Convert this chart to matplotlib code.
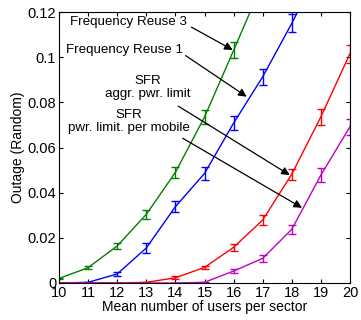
import matplotlib
matplotlib.use("Agg")
import matplotlib.pyplot as plt

plt.rcParams["font.family"] = ["Liberation Sans", "DejaVu Sans"]

users = [10, 11, 12, 13, 14, 15, 16, 17, 18, 19, 20]

reuse3 = [0.002, 0.0068, 0.0164, 0.0304, 0.049, 0.0735, 0.103, 0.133, 0.17, 0.21, 0.25]
reuse3_err = [0.0004, 0.0008, 0.0015, 0.002, 0.0025, 0.003, 0.0035, 0.004, 0.004, 0.004, 0.004]

reuse1 = [0.0, 0.0003, 0.004, 0.0155, 0.0338, 0.0485, 0.0708, 0.0913, 0.115, 0.14, 0.17]
reuse1_err = [0.0, 0.0002, 0.0008, 0.002, 0.0025, 0.003, 0.003, 0.0035, 0.004, 0.004, 0.004]

sfr_aggr = [0.0, 0.0, 0.0, 0.0003, 0.0023, 0.0069, 0.0158, 0.0279, 0.0482, 0.0736, 0.1016]
sfr_aggr_err = [0.0, 0.0, 0.0, 0.0002, 0.0006, 0.0008, 0.0015, 0.002, 0.0025, 0.0035, 0.004]

sfr_mobile = [0.0, 0.0, 0.0, 0.0, 0.0, 0.0003, 0.0053, 0.0109, 0.0238, 0.0478, 0.0692]
sfr_mobile_err = [0.0, 0.0, 0.0, 0.0, 0.0, 0.0002, 0.0008, 0.0015, 0.002, 0.003, 0.0035]

series = [
    (reuse3, reuse3_err, "#008000"),
    (reuse1, reuse1_err, "#0000ff"),
    (sfr_aggr, sfr_aggr_err, "#ff0000"),
    (sfr_mobile, sfr_mobile_err, "#bf00bf"),
]

fig = plt.figure(figsize=(3.61, 3.2), dpi=100)
ax = fig.add_axes([59 / 361, 37 / 320, 291 / 361, 271 / 320])

for values, errors, color in series:
    ax.errorbar(users, values, yerr=errors, color=color, lw=1.0,
                elinewidth=1.0, capsize=3, capthick=1.0)

labels = [
    ("Frequency Reuse 3", (12.38, 0.1155), (14.55, 0.1133), (15.97, 0.1032)),
    ("Frequency Reuse 1", (12.24, 0.1031), (14.35, 0.1007), (16.45, 0.0825)),
    ("SFR\naggr. pwr. limit", (13.05, 0.0866), (14.1, 0.0783), (17.93, 0.0478)),
    ("SFR\npwr. limit. per mobile", (12.4, 0.0715), (14.25, 0.0641), (18.35, 0.0333)),
]
for text, text_pos, tail, head in labels:
    ax.text(*text_pos, text, ha="center", va="center", fontsize=9.6,
            linespacing=1.15)
    ax.annotate("", xy=head, xytext=tail,
                arrowprops=dict(arrowstyle="-|>", color="black", lw=0.9,
                                mutation_scale=12, shrinkA=0, shrinkB=0))

ax.set_xlim(10, 20)
ax.set_ylim(0, 0.12)
ax.set_xticks(users)
ax.set_yticks([0, 0.02, 0.04, 0.06, 0.08, 0.1, 0.12])
ax.set_yticklabels(["0", "0.02", "0.04", "0.06", "0.08", "0.1", "0.12"])
ax.tick_params(direction="in", top=True, right=True, labelsize=10.5, length=3,
               pad=2)
ax.set_xlabel("Mean number of users per sector", fontsize=10, labelpad=0)
ax.set_ylabel("Outage (Random)", fontsize=10, labelpad=2)

fig.savefig("out.png", dpi=100)
